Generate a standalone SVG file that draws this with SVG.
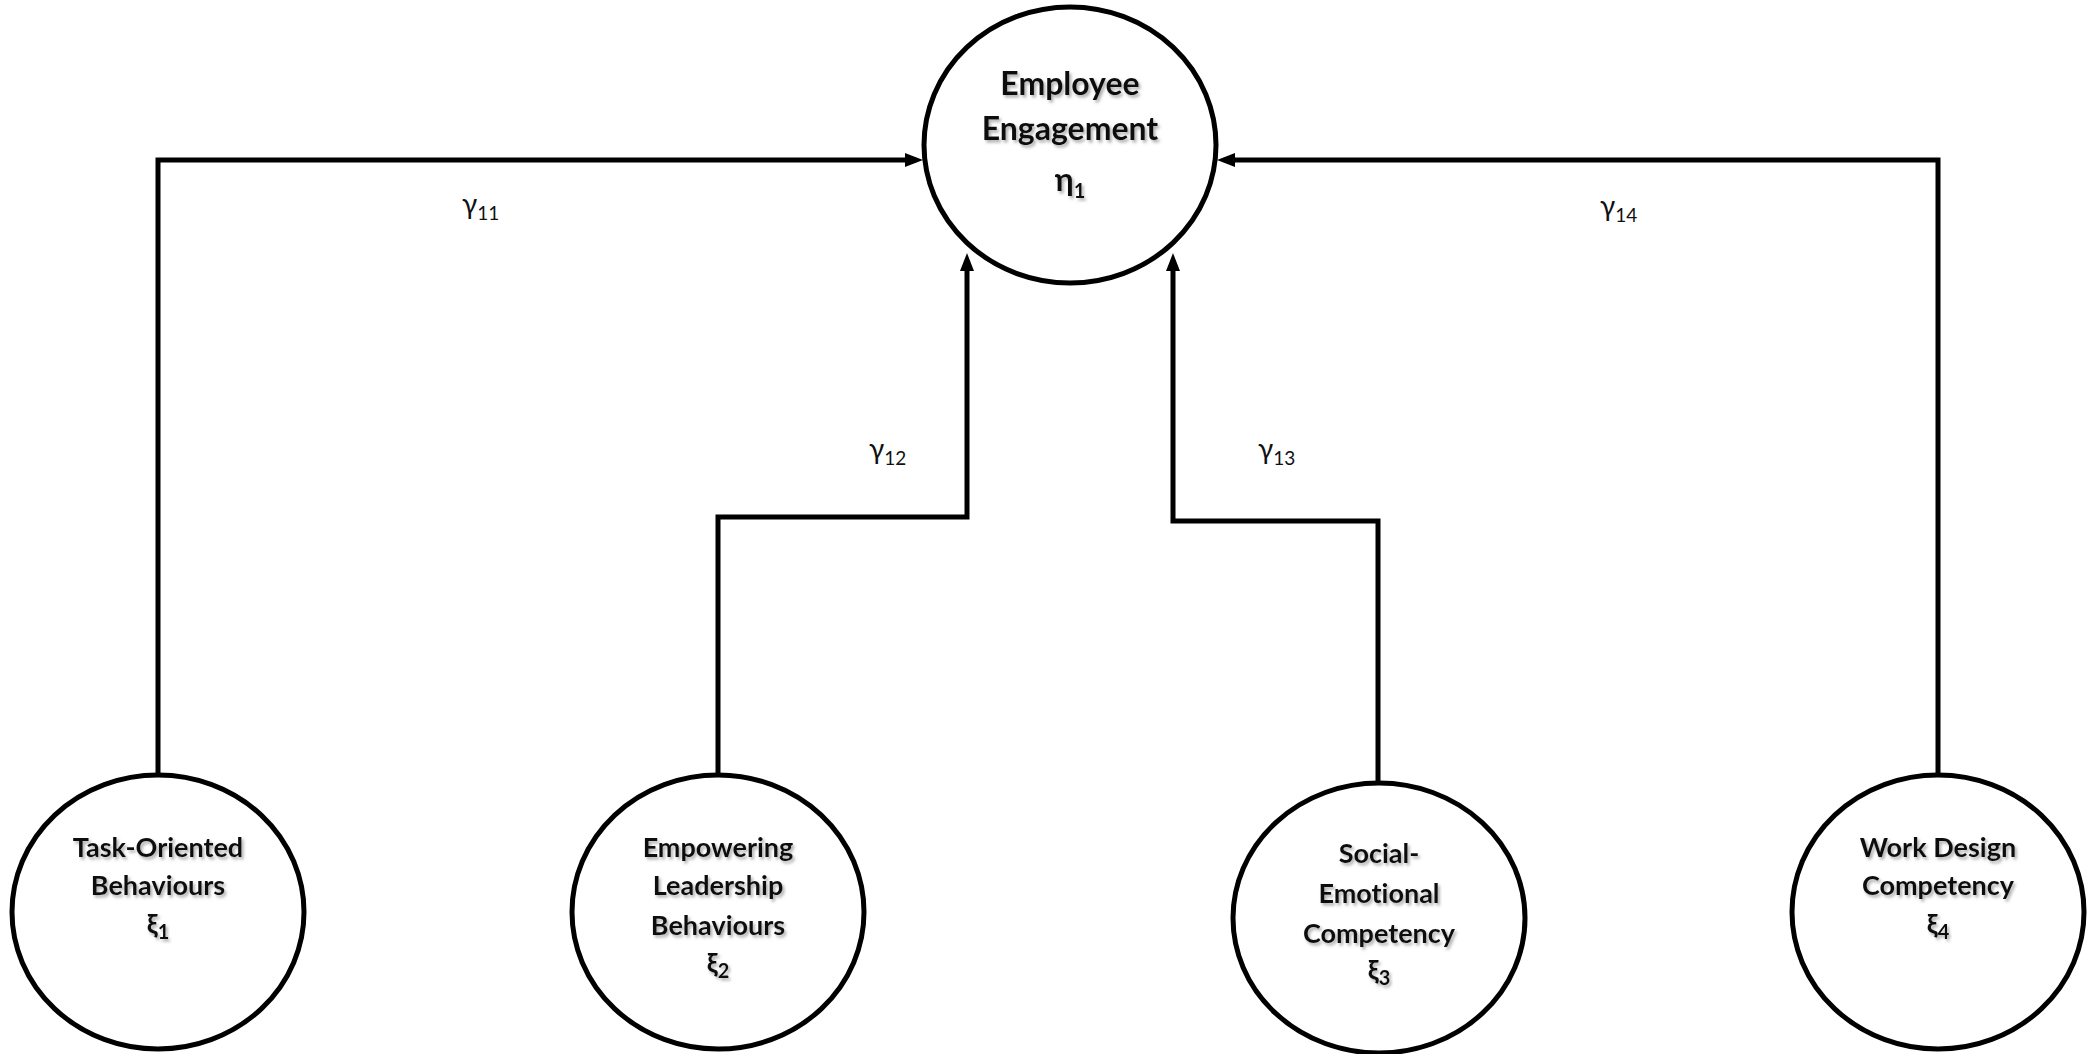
<svg xmlns="http://www.w3.org/2000/svg" width="2098" height="1054" viewBox="0 0 2098 1054">
<defs>
<marker id="arr" markerUnits="userSpaceOnUse" markerWidth="18" markerHeight="14" refX="8" refY="7" orient="auto">
<path d="M0,0 L18,7 L0,14 z" fill="#000"/>
</marker>
<filter id="sh" x="-10%" y="-20%" width="120%" height="150%">
<feDropShadow dx="2" dy="2.5" stdDeviation="1.5" flood-color="#777" flood-opacity="0.6"/>
</filter>
</defs>
<style>
.node ellipse{fill:#fff;stroke:#000;stroke-width:5}
.lbl{font-family:Lato,"Liberation Sans",sans-serif;font-weight:bold;fill:#111;text-anchor:middle;filter:url(#sh);font-variant-ligatures:none}
.big{font-size:32px}
.mid{font-size:27px}
.sub{font-size:20px}
.g{font-family:Lato,"Liberation Sans",sans-serif;font-size:28px;fill:#111}
.gs{font-size:19px}
.conn path{fill:none;stroke:#000;stroke-width:5;stroke-linejoin:miter}
</style>
<rect width="2098" height="1054" fill="#fff"/>
<g id="connectors" class="conn">
<path d="M158,790 L158,160 L913,160" marker-end="url(#arr)"/>
<path d="M718,790 L718,517 L967,517 L967,263" marker-end="url(#arr)"/>
<path d="M1378,797 L1378,521 L1173,521 L1173,263" marker-end="url(#arr)"/>
<path d="M1938,790 L1938,160 L1227,160" marker-end="url(#arr)"/>
</g>
<g id="labels">
<text class="g" x="462" y="214">γ<tspan class="gs" dy="6">11</tspan></text>
<text class="g" x="869" y="459">γ<tspan class="gs" dy="6">12</tspan></text>
<text class="g" x="1258" y="459">γ<tspan class="gs" dy="6">13</tspan></text>
<text class="g" x="1600" y="216">γ<tspan class="gs" dy="6">14</tspan></text>
</g>
<g id="eta1" class="node">
<ellipse cx="1070" cy="145" rx="146" ry="138"/>
<text class="lbl big" x="1070" y="95">Employee</text>
<text class="lbl big" x="1070" y="140">Engagement</text>
<text class="lbl big" x="1070" y="191">η<tspan class="sub" dy="7">1</tspan></text>
</g>
<g id="xi1" class="node">
<ellipse cx="158" cy="912" rx="146" ry="137"/>
<text class="lbl mid" x="158" y="857">Task-Oriented</text>
<text class="lbl mid" x="158" y="895">Behaviours</text>
<text class="lbl mid" x="158" y="933">ξ<tspan class="sub" dy="6">1</tspan></text>
</g>
<g id="xi2" class="node">
<ellipse cx="718" cy="912" rx="146" ry="137"/>
<text class="lbl mid" x="718" y="857">Empowering</text>
<text class="lbl mid" x="718" y="895">Leadership</text>
<text class="lbl mid" x="718" y="935">Behaviours</text>
<text class="lbl mid" x="718" y="972">ξ<tspan class="sub" dy="6">2</tspan></text>
</g>
<g id="xi3" class="node">
<ellipse cx="1379" cy="918" rx="146" ry="135"/>
<text class="lbl mid" x="1379" y="863">Social-</text>
<text class="lbl mid" x="1379" y="903">Emotional</text>
<text class="lbl mid" x="1379" y="943">Competency</text>
<text class="lbl mid" x="1379" y="979">ξ<tspan class="sub" dy="6">3</tspan></text>
</g>
<g id="xi4" class="node">
<ellipse cx="1938" cy="912" rx="146" ry="137"/>
<text class="lbl mid" x="1938" y="857">Work Design</text>
<text class="lbl mid" x="1938" y="895">Competency</text>
<text class="lbl mid" x="1938" y="933">ξ<tspan class="sub" dy="6">4</tspan></text>
</g>
</svg>
